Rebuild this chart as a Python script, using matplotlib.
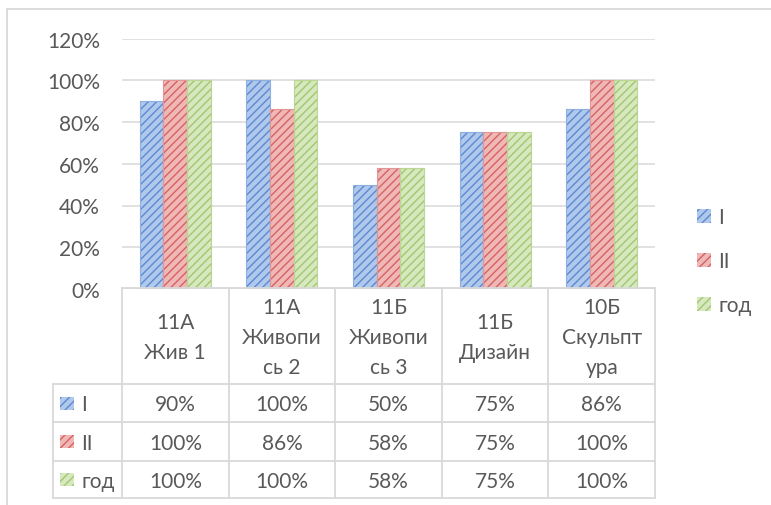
import matplotlib.pyplot as plt
from matplotlib.lines import Line2D
from matplotlib.patches import Rectangle
import numpy as np

categories = ['11А\nЖив 1', '11А\nЖивопи\nсь 2', '11Б\nЖивопи\nсь 3', '11Б\nДизайн', '10Б\nСкульпт\nура']
series_names = ['I', 'II', 'год']
vals_1 = [90, 100, 50, 75, 86]
vals_2 = [100, 86, 58, 75, 100]
vals_year = [100, 100, 58, 75, 100]

fills = ['#AFC8EC', '#EFB8B7', '#D6E8BE']
stripes = ['#5C8AD0', '#D4625F', '#A2C672']
edges = ['#8DAEE0', '#E39594', '#B9D693']

plt.rcParams['font.family'] = ['Lato', 'DejaVu Sans']
plt.rcParams['hatch.linewidth'] = 1.0
txt_color = '#595959'
grid_color = '#D9D9D9'
fs = 15

W, H = 771, 506
fig = plt.figure(figsize=(W / 100, H / 100), dpi=100)


def fx(p):
    return p / W


def fy(p):
    return 1 - p / H


x0, x1 = 122, 655
ax = fig.add_axes([fx(x0), fy(290), (x1 - x0) / W, (290 - 39.5) / H])
n = len(categories)
x = np.arange(n)
bw = 0.222
all_vals = [vals_1, vals_2, vals_year]
bars = []
for i, vals in enumerate(all_vals):
    v = np.array(vals) / 100
    b = ax.bar(x + (i - 1) * bw, v, bw, color=fills[i], edgecolor=stripes[i],
               hatch='////', linewidth=0, label=series_names[i], zorder=2)
    ax.bar(x + (i - 1) * bw, v, bw, fill=False, edgecolor=edges[i], linewidth=0.8, zorder=3)
    bars.append(b)

ax.set_xlim(-0.5, n - 0.5)
ax.set_ylim(0, 1.2)
ax.set_yticks(np.arange(0, 1.21, 0.2))
ax.set_yticklabels([f'{int(round(t * 100))}%' for t in np.arange(0, 1.21, 0.2)])
ax.tick_params(axis='y', length=0, pad=16, labelsize=fs, labelcolor=txt_color)
ax.set_xticks([])
for s in ax.spines.values():
    s.set_visible(False)
ax.yaxis.grid(True, color=grid_color, linewidth=1.1, zorder=0)
ax.set_axisbelow(True)

# data table below the plot
cw = (x1 - x0) / n
tl = 53
tax = fig.add_axes([fx(tl), fy(499), (x1 - tl) / W, (499 - 289) / H])
tax.set_xlim(-0.5 - (x0 - tl) / cw, n - 0.5)
tax.set_ylim(499, 289)
tax.axis('off')


def tx(p):
    return -0.5 + (p - x0) / cw


row_lines = [385, 423, 462, 499]
kw = dict(color=grid_color, linewidth=1.3, clip_on=False)
tax.plot([-0.5, n - 0.5], [289, 289], **kw)
for yy in row_lines:
    tax.plot([tx(tl), n - 0.5], [yy, yy], **kw)
for k in range(n + 1):
    tax.plot([k - 0.5, k - 0.5], [289, 499], **kw)
tax.plot([tx(tl), tx(tl)], [385, 499], **kw)

for k, c in enumerate(categories):
    tax.text(k, 338, c, ha='center', va='center', fontsize=fs, color=txt_color,
             linespacing=1.62)

for r, vals in enumerate(all_vals):
    yc = (row_lines[r] + row_lines[r + 1]) / 2
    for k, v in enumerate(vals):
        tax.text(k, yc + 1, f'{v}%', ha='center', va='center', fontsize=fs, color=txt_color)
    tax.add_patch(Rectangle((tx(60), yc - 6.5), tx(74) - tx(60), 13,
                            facecolor=fills[r], edgecolor=stripes[r], hatch='////',
                            linewidth=0, clip_on=False))
    tax.text(tx(81), yc + 1, series_names[r], ha='left', va='center', fontsize=fs,
             color=txt_color)

fig.legend(handles=bars, labels=series_names, loc='center left',
           bbox_to_anchor=(fx(697), fy(262)), frameon=False, borderpad=0,
           borderaxespad=0, fontsize=fs, labelcolor=txt_color,
           handlelength=0.68, handleheight=0.68, handletextpad=0.35,
           labelspacing=1.15)

fig.add_artist(Line2D([fx(7), fx(7)], [fy(10), 0], color=grid_color, linewidth=1.3))
fig.add_artist(Line2D([fx(7), 1], [fy(10), fy(10)], color=grid_color, linewidth=1.3))

fig.savefig('out.png', dpi=100)
